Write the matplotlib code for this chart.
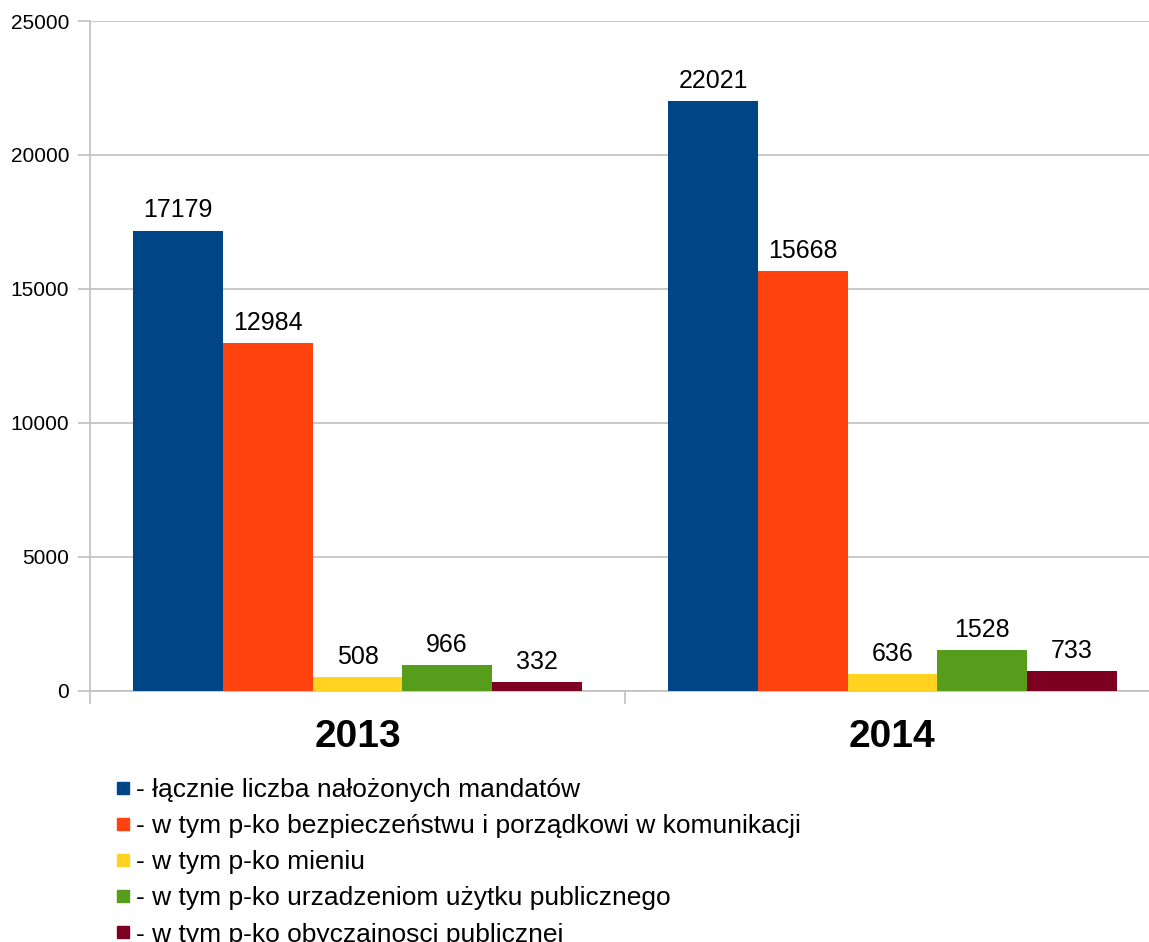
import numpy as np
import matplotlib
matplotlib.use("Agg")
import matplotlib.pyplot as plt
from matplotlib.lines import Line2D

plt.rcParams['font.family'] = ['Liberation Sans', 'DejaVu Sans']

years = ["2013", "2014"]
series_labels = [
    "- łącznie liczba nałożonych mandatów",
    "- w tym p-ko bezpieczeństwu i porządkowi w komunikacji",
    "- w tym p-ko mieniu",
    "- w tym p-ko urzadzeniom użytku publicznego",
    "- w tym p-ko obyczajnosci publicznej",
]
values_2013 = [17179, 12984, 508, 966, 332]
values_2014 = [22021, 15668, 636, 1528, 733]
colors = ["#004586", "#ff420e", "#ffd320", "#579d1c", "#7e0021"]

fig = plt.figure(figsize=(11.49, 9.42), dpi=100)
ax = fig.add_axes([90 / 1149, 251 / 942, 1070 / 1149, 670 / 942])

x = np.arange(len(years))
width = 0.1675
grid_c = "#c0c0c0"

for i in range(len(series_labels)):
    vals = [values_2013[i], values_2014[i]]
    bars = ax.bar(x + (i - 2) * width, vals, width, color=colors[i], zorder=3)
    ax.bar_label(bars, labels=[str(v) for v in vals], padding=6, fontsize=18)

ax.set_xlim(-0.5, 1.5)
ax.set_ylim(0, 25000)
ax.set_yticks(np.arange(0, 25001, 5000))
ax.yaxis.grid(True, color=grid_c, linewidth=1.2, zorder=0)
ax.tick_params(axis='y', length=9, width=1.2, color=grid_c, pad=6, labelsize=15)

ax.set_xticks(x)
ax.set_xticklabels(years, fontsize=28, fontweight='bold')
ax.tick_params(axis='x', which='major', length=0, pad=20)
ax.set_xticks([-0.5, 0.5, 1.5], minor=True)
ax.tick_params(axis='x', which='minor', length=9, width=1.2, color=grid_c)

for s in ['top', 'right']:
    ax.spines[s].set_visible(False)
for s in ['left', 'bottom']:
    ax.spines[s].set_color(grid_c)
    ax.spines[s].set_linewidth(1.2)

handles = [Line2D([], [], marker='s', linestyle='none', markersize=8.8,
                  markerfacecolor=c, markeredgecolor=c) for c in colors]
fig.legend(handles, series_labels, loc='upper left',
           bbox_to_anchor=(115 / 1149, 1 - 778 / 942), frameon=False,
           fontsize=19, handlelength=0.6, handletextpad=0.2,
           labelspacing=0.46, borderpad=0, borderaxespad=0)

fig.savefig("out.png", dpi=100)
